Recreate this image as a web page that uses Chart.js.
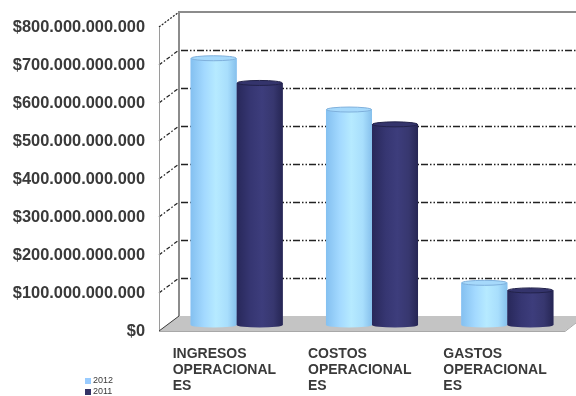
<!DOCTYPE html>
<html>
<head>
<meta charset="utf-8">
<script src="https://cdn.jsdelivr.net/npm/chart.js@4.4.1/dist/chart.umd.min.js"></script>
<style>
  html, body { margin: 0; padding: 0; background: #ffffff; }
  #wrap { width: 576px; height: 396px; position: relative; }
</style>
</head>
<body>
<div id="wrap"><canvas id="c" width="576" height="396"></canvas></div>
<script>
// Categories (multi-line labels as shown under each group)
const categories = [
  ['INGRESOS', 'OPERACIONAL', 'ES'],
  ['COSTOS', 'OPERACIONAL', 'ES'],
  ['GASTOS', 'OPERACIONAL', 'ES']
];
const seriesNames = ['2012', '2011'];
const values2012 = [702000000000, 567000000000, 111000000000];
const values2011 = [637000000000, 528000000000, 91000000000];
const yMax = 800000000000;
const yStep = 100000000000;

const FONT = '"Liberation Sans", Arial, sans-serif';
const TEXT = '#3a3a3a';

// Depth offsets of the back wall and front edge relative to the bar plane
const BACK = { dx: 10, dy: -9 };
const FRONT = { dx: -10, dy: 6 };

function pesos(v) {
  return '$' + String(Math.round(v)).replace(/\B(?=(\d{3})+(?!\d))/g, '.');
}

// Walls, floor and dashed gridlines of the 3D box
const box3d = {
  id: 'box3d',
  beforeDatasetsDraw(chart) {
    const { ctx, chartArea: a, scales: { y } } = chart;
    const y0 = y.getPixelForValue(0);
    const yT = y.getPixelForValue(y.max);
    const bl = a.left + BACK.dx, br = a.right + BACK.dx;
    const fl = a.left + FRONT.dx, fr = a.right + FRONT.dx;
    ctx.save();

    // back-wall dashed gridlines
    ctx.strokeStyle = '#222222';
    ctx.lineWidth = 1.6;
    ctx.setLineDash([7, 2, 1.5, 2, 1.5, 2]);
    for (let v = yStep; v < y.max; v += yStep) {
      const yy = Math.round(y.getPixelForValue(v) + BACK.dy) + 0.5;
      ctx.beginPath();
      ctx.moveTo(bl + 2, yy);
      ctx.lineTo(br, yy);
      ctx.stroke();
    }
    // side-wall slanted gridlines
    ctx.setLineDash([4, 2, 1.5, 2]);
    ctx.lineWidth = 1.2;
    for (let v = yStep; v < y.max; v += yStep) {
      const yp = y.getPixelForValue(v);
      ctx.beginPath();
      ctx.moveTo(fl, yp + FRONT.dy);
      ctx.lineTo(bl, yp + BACK.dy);
      ctx.stroke();
    }
    ctx.setLineDash([2, 1.5]);
    ctx.beginPath();
    ctx.moveTo(fl, yT + FRONT.dy);
    ctx.lineTo(bl, yT + BACK.dy);
    ctx.stroke();
    ctx.setLineDash([]);

    // back wall frame
    ctx.strokeStyle = '#8c8c8c';
    ctx.lineWidth = 2;
    ctx.beginPath();
    ctx.moveTo(bl, y0 + BACK.dy);
    ctx.lineTo(bl, yT + BACK.dy);
    ctx.lineTo(br, yT + BACK.dy);
    ctx.stroke();
    // front edge of side wall
    ctx.lineWidth = 1;
    ctx.strokeStyle = '#9a9a9a';
    ctx.beginPath();
    ctx.moveTo(Math.round(fl) + 0.5, yT + FRONT.dy);
    ctx.lineTo(Math.round(fl) + 0.5, y0 + FRONT.dy);
    ctx.stroke();

    // floor
    ctx.fillStyle = '#c4c4c4';
    ctx.beginPath();
    ctx.moveTo(fl, y0 + FRONT.dy);
    ctx.lineTo(bl, y0 + BACK.dy);
    ctx.lineTo(br, y0 + BACK.dy);
    ctx.lineTo(fr, y0 + FRONT.dy);
    ctx.closePath();
    ctx.fill();
    ctx.strokeStyle = '#a8a8a8';
    ctx.lineWidth = 1;
    ctx.beginPath();
    ctx.moveTo(fl, y0 + FRONT.dy + 0.5);
    ctx.lineTo(fr, y0 + FRONT.dy + 0.5);
    ctx.lineTo(br, y0 + BACK.dy);
    ctx.stroke();
    ctx.strokeStyle = '#3a3a3a';
    ctx.beginPath();
    ctx.moveTo(fl, y0 + FRONT.dy);
    ctx.lineTo(bl, y0 + BACK.dy);
    ctx.stroke();
    ctx.restore();
  }
};

// Cylinder shading painted over each bar element
const shades = [
  { stops: ['#84c0f0', '#a3d9ff', '#b6eaff', '#a8defc', '#86c0ec'], cap: '#a6d9fb', capEdge: '#7fb0dc' },
  { stops: ['#28285a', '#363672', '#3d3d7c', '#37376f', '#262654'], cap: '#34346c', capEdge: '#22224a' }
];
const cylinders = {
  id: 'cylinders',
  afterDatasetsDraw(chart) {
    const { ctx } = chart;
    ctx.save();
    chart.data.datasets.forEach((ds, di) => {
      const meta = chart.getDatasetMeta(di);
      const sh = shades[di];
      meta.data.forEach(bar => {
        const { x, y, base, width } = bar.getProps(['x', 'y', 'base', 'width'], true);
        const l = x - width / 2, r = x + width / 2, rx = width / 2, ry = 2.5;
        const g = ctx.createLinearGradient(l, 0, r, 0);
        g.addColorStop(0, sh.stops[0]);
        g.addColorStop(0.3, sh.stops[1]);
        g.addColorStop(0.55, sh.stops[2]);
        g.addColorStop(0.8, sh.stops[3]);
        g.addColorStop(1, sh.stops[4]);
        ctx.fillStyle = g;
        ctx.beginPath();
        ctx.moveTo(l, y);
        ctx.lineTo(l, base);
        ctx.ellipse(x, base, rx, ry, 0, Math.PI, 0, true);
        ctx.lineTo(r, y);
        ctx.closePath();
        ctx.fill();
        // top cap
        ctx.fillStyle = sh.cap;
        ctx.strokeStyle = sh.capEdge;
        ctx.lineWidth = 1;
        ctx.beginPath();
        ctx.ellipse(x, y, rx - 0.5, ry, 0, 0, Math.PI * 2);
        ctx.fill();
        ctx.stroke();
      });
    });
    ctx.restore();
  }
};

// Small vertical legend in the lower-left corner
const cornerLegend = {
  id: 'cornerLegend',
  afterDraw(chart) {
    const { ctx } = chart;
    ctx.save();
    ctx.font = '9px ' + FONT;
    ctx.textBaseline = 'middle';
    chart.data.datasets.forEach((ds, i) => {
      const cy = 381 + i * 11;
      ctx.fillStyle = ds.backgroundColor;
      ctx.fillRect(85, cy - 3, 6, 6);
      ctx.fillStyle = TEXT;
      ctx.fillText(ds.label, 93, cy);
    });
    ctx.restore();
  }
};

new Chart(document.getElementById('c'), {
  type: 'bar',
  data: {
    labels: categories,
    datasets: [
      { label: seriesNames[0], data: values2012, backgroundColor: '#99ccff' },
      { label: seriesNames[1], data: values2011, backgroundColor: '#333366' }
    ]
  },
  options: {
    responsive: false,
    animation: false,
    devicePixelRatio: 1,
    layout: { padding: { top: 21, right: 1, bottom: 0, left: 0 } },
    datasets: { bar: { categoryPercentage: 0.68, barPercentage: 1.0 } },
    plugins: { legend: { display: false }, tooltip: { enabled: false } },
    scales: {
      x: {
        offset: true,
        grid: { display: false, drawTicks: false },
        border: { display: false },
        ticks: {
          align: 'start',
          labelOffset: -64,
          padding: 21,
          autoSkip: false,
          maxRotation: 0,
          minRotation: 0,
          color: TEXT,
          font: { family: FONT, size: 14, weight: 'bold', lineHeight: 1.15 }
        },
        afterFit(s) { s.height = 71; s.paddingLeft = 0; s.paddingRight = 0; }
      },
      y: {
        min: 0,
        max: yMax,
        grid: { display: false, drawTicks: false },
        border: { display: false },
        ticks: {
          stepSize: yStep,
          padding: 24,
          labelOffset: 6,
          color: TEXT,
          font: { family: FONT, size: 16.4, weight: 'bold' },
          callback: v => pesos(v)
        },
        afterFit(s) { s.width = 169; s.paddingTop = 0; s.paddingBottom = 0; }
      }
    }
  },
  plugins: [box3d, cylinders, cornerLegend]
});
</script>
</body>
</html>
